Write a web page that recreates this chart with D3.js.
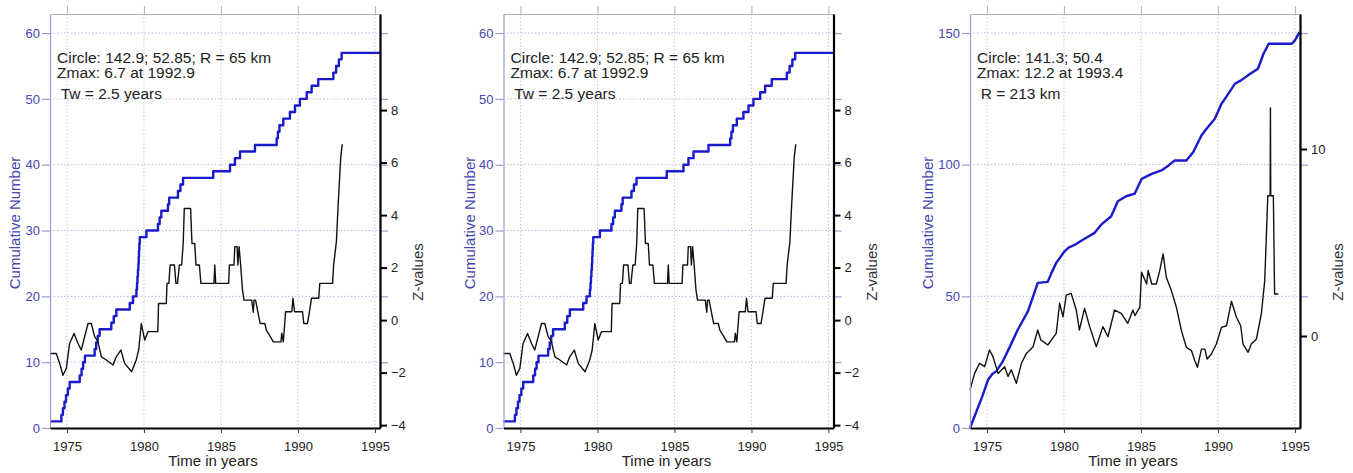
<!DOCTYPE html>
<html>
<head>
<meta charset="utf-8">
<script src="https://cdn.jsdelivr.net/npm/d3@7"></script>
<style>
  body { margin: 0; background: #fff; }
  svg text { font-family: "Liberation Sans", Arial, sans-serif; }
</style>
</head>
<body>
<svg id="chart" width="1353" height="473"></svg>
<script>
// ---- data ----
const yearTicks = [1975, 1980, 1985, 1990, 1995];

// panel A (left and middle are the same data): cumulative number, step times
const cumTimeA = [1973.9, 1974.64, 1974.74, 1974.84, 1974.94, 1975.06, 1975.18, 1975.83, 1975.95, 1976.05,
  1976.17, 1976.8, 1976.9, 1977.0, 1977.12, 1977.88, 1978.04, 1978.21, 1979.08, 1979.29,
  1979.51, 1979.55, 1979.58, 1979.61, 1979.64, 1979.66, 1979.68, 1979.7, 1979.73, 1980.16,
  1980.91, 1981.02, 1981.13, 1981.56, 1981.64, 1982.21, 1982.37, 1982.54, 1984.5, 1985.59,
  1985.91, 1986.24, 1987.21, 1988.62, 1988.7, 1988.8, 1989.05, 1989.48, 1989.81, 1990.13,
  1990.57, 1990.89, 1991.32, 1992.3, 1992.48, 1992.66, 1992.84, 1995.33];
const cumCountA = [1, 2, 3, 4, 5, 6, 7, 8, 9, 10,
  11, 12, 13, 14, 15, 16, 17, 18, 19, 20,
  21, 22, 23, 24, 25, 26, 27, 28, 29, 30,
  31, 32, 33, 34, 35, 36, 37, 38, 39, 40,
  41, 42, 43, 44, 45, 46, 47, 48, 49, 50,
  51, 52, 53, 54, 55, 56, 57, 57];

// panel A z-values
const zTimeA = [1973.9, 1974.31, 1974.53, 1974.74, 1974.96, 1975.17, 1975.46, 1975.72, 1975.93, 1976.15,
  1976.37, 1976.58, 1976.8, 1977.0, 1977.24, 1977.56, 1978.0, 1978.2, 1978.5, 1978.75,
  1979.2, 1979.5, 1979.66, 1979.83, 1980.05, 1980.26, 1980.9, 1980.95, 1981.45, 1981.5,
  1981.62, 1981.7, 1981.98, 1982.08, 1982.18, 1982.3, 1982.45, 1982.55, 1982.62, 1983.03,
  1983.12, 1983.3, 1983.38, 1983.6, 1983.7, 1984.55, 1984.6, 1984.66, 1985.5, 1985.55,
  1985.85, 1985.9, 1986.05, 1986.1, 1986.18, 1986.28, 1986.4, 1986.5, 1987.0, 1987.1,
  1987.15, 1987.25, 1987.4, 1987.55, 1987.85, 1987.95, 1988.15, 1988.4, 1988.9, 1988.95,
  1989.05, 1989.2, 1989.6, 1989.68, 1989.78, 1990.3, 1990.38, 1990.62, 1990.75, 1990.88,
  1991.35, 1991.42, 1992.25, 1992.32, 1992.5, 1992.6, 1992.78, 1992.88];
const zValA = [-1.27, -1.27, -1.65, -2.1, -1.84, -0.89, -0.51, -0.89, -1.14, -0.63,
  -0.13, -0.13, -0.63, -0.8, -1.4, -1.52, -1.71, -1.4, -1.14, -1.65,
  -1.97, -1.52, -1.14, -0.13, -0.76, -0.44, -0.44, 0.63, 0.63, 1.4,
  1.4, 2.1, 2.1, 1.4, 1.4, 2.1, 2.1, 2.92, 4.25, 4.25,
  2.92, 2.92, 2.1, 2.1, 1.4, 1.4, 2.1, 1.4, 1.4, 2.1,
  2.1, 2.8, 2.8, 2.1, 2.8, 2.1, 1.14, 0.76, 0.76, 0.3,
  0.76, 0.76, 0.3, -0.13, -0.13, -0.38, -0.57, -0.83, -0.83, -0.5,
  -0.83, 0.32, 0.32, 0.83, 0.32, 0.32, -0.13, -0.13, 0.32, 0.83,
  0.83, 1.4, 1.4, 2.1, 3.0, 4.25, 6.2, 6.7];

// panel B (right): cumulative number and z-values
const cumTimeB = [1973.9, 1974.3, 1974.7, 1975.07, 1975.35, 1975.6, 1976.0, 1976.5, 1977.0, 1977.66,
  1978.0, 1978.3, 1978.95, 1979.2, 1979.5, 1980.04, 1980.3, 1980.69, 1981.23, 1981.99,
  1982.42, 1983.07, 1983.5, 1984.04, 1984.6, 1985.05, 1985.7, 1986.33, 1986.8, 1987.19,
  1987.95, 1988.4, 1988.93, 1989.26, 1989.8, 1990.23, 1990.67, 1991.1, 1991.5, 1992.1,
  1992.6, 1992.96, 1993.3, 1994.8, 1995.0, 1995.3];
const cumCountB = [0, 6, 12, 18.3, 20.5, 21.5, 25, 31, 37.3, 44.3,
  50, 55.1, 55.5, 59, 62.7, 67.1, 68.5, 69.5, 71.5, 74.1,
  77.2, 80.4, 86.1, 88, 89, 94.6, 96.5, 97.8, 99.7, 101.6,
  101.6, 104.8, 111.1, 113.6, 117.4, 123.1, 126.9, 130.7, 132, 134.5,
  136.4, 142.1, 145.9, 145.9, 147.2, 150.3];

const zTimeB = [1973.9, 1974.2, 1974.52, 1974.85, 1975.17, 1975.39, 1975.72, 1976.15, 1976.37, 1976.58,
  1976.91, 1977.24, 1977.56, 1978.0, 1978.3, 1978.5, 1978.95, 1979.5, 1979.72, 1979.94,
  1980.15, 1980.47, 1980.8, 1981.0, 1981.34, 1981.67, 1982.1, 1982.53, 1982.86, 1983.29,
  1983.72, 1984.15, 1984.48, 1984.61, 1984.93, 1985.04, 1985.37, 1985.47, 1985.7, 1986.0,
  1986.22, 1986.44, 1986.65, 1986.98, 1987.3, 1987.63, 1987.95, 1988.28, 1988.5, 1988.67,
  1988.93, 1989.15, 1989.3, 1989.58, 1989.9, 1990.23, 1990.56, 1990.88, 1991.2, 1991.48,
  1991.63, 1991.96, 1992.17, 1992.5, 1992.82, 1993.04, 1993.24, 1993.39, 1993.41, 1993.43,
  1993.6, 1993.68, 1993.92];
const zValB = [-2.89, -2.0, -1.46, -1.64, -0.75, -1.1, -2.0, -1.64, -2.17, -1.8,
  -2.53, -1.46, -0.93, -0.57, 0.32, -0.21, -0.48, 0.14, 1.75, 1.03,
  2.19, 2.28, 1.39, 0.32, 1.48, 0.5, -0.57, 0.5, -0.04, 1.39,
  1.21, 0.68, 1.39, 1.09, 1.54, 3.41, 2.78, 3.5, 2.78, 2.78,
  3.5, 4.39, 3.14, 2.42, 1.54, 0.29, -0.6, -0.78, -1.32, -1.67,
  -0.7, -0.7, -1.23, -0.96, -0.43, 0.46, 0.55, 1.86, 1.0, 0.55,
  -0.43, -0.87, -0.43, -0.16, 1.18, 2.96, 7.5, 7.5, 12.2, 7.5,
  7.5, 2.25, 2.25];

const notesA = ["Circle: 142.9; 52.85; R = 65 km", "Zmax: 6.7 at 1992.9", "Tw = 2.5 years"];
const notesB = ["Circle: 141.3; 50.4", "Zmax: 12.2 at 1993.4", "R = 213 km"];
const cumTicksA = [0, 10, 20, 30, 40, 50, 60];
const zTicksA = [-4, -2, 0, 2, 4, 6, 8];
const cumTicksB = [0, 50, 100, 150];
const zTicksB = [0, 10];

const blue = '#1a1acd';
const blueText = '#4646b4';
const blueAxis = '#9c9cd4';

const svg = d3.select('#chart');

const panels = [
  { left: 50, cumT: cumTimeA, cumN: cumCountA, zT: zTimeA, zV: zValA, notes: notesA,
    nTicks: cumTicksA, zTicks: zTicksA, nDomain: [0, 62.9], zDomain: [-4.11, 11.66],
    step: true, nLabelDx: -30 },
  { left: 503.5, cumT: cumTimeA, cumN: cumCountA, zT: zTimeA, zV: zValA, notes: notesA,
    nTicks: cumTicksA, zTicks: zTicksA, nDomain: [0, 62.9], zDomain: [-4.11, 11.66],
    step: true, nLabelDx: -29 },
  { left: 970, cumT: cumTimeB, cumN: cumCountB, zT: zTimeB, zV: zValB, notes: notesB,
    nTicks: cumTicksB, zTicks: zTicksB, nDomain: [0, 157.2], zDomain: [-4.92, 17.22],
    step: false, nLabelDx: -37 }
];

const plotTop = 14, plotBottom = 428, plotW = 330;

function drawPanel(p) {
  const g = svg.append('g');
  const right = p.left + plotW;
  const x = d3.scaleLinear().domain([1973.9, 1995.33]).range([p.left, right]);
  const yN = d3.scaleLinear().domain(p.nDomain).range([plotBottom, plotTop]);
  const yZ = d3.scaleLinear().domain(p.zDomain).range([plotBottom, plotTop]);

  // grid
  g.append('g').selectAll('line').data(yearTicks).join('line')
    .attr('x1', d => x(d)).attr('x2', d => x(d))
    .attr('y1', plotTop).attr('y2', plotBottom)
    .attr('stroke', '#c6c6c6').attr('stroke-width', 1)
    .attr('stroke-dasharray', '1.5,2');
  g.append('g').selectAll('line').data(p.nTicks.filter(d => d > 0)).join('line')
    .attr('x1', p.left).attr('x2', right)
    .attr('y1', d => yN(d)).attr('y2', d => yN(d))
    .attr('stroke', '#b4b4de').attr('stroke-width', 1)
    .attr('stroke-dasharray', '1.5,2');

  // top border with upward ticks
  const topAxis = g.append('g').attr('transform', `translate(0,${plotTop})`)
    .call(d3.axisTop(x).tickValues(yearTicks).tickSize(8).tickSizeOuter(0).tickFormat(''));
  topAxis.selectAll('path, line').attr('stroke', '#b0b0b0');

  // curves
  const cumPts = p.cumT.map((t, i) => [t, p.cumN[i]]);
  g.append('path').datum(cumPts)
    .attr('fill', 'none').attr('stroke', blue).attr('stroke-width', 2.4)
    .attr('stroke-linejoin', 'round')
    .attr('d', d3.line().x(d => x(d[0])).y(d => yN(d[1]))
      .curve(p.step ? d3.curveStepAfter : d3.curveLinear));

  const zPts = p.zT.map((t, i) => [t, p.zV[i]]);
  g.append('path').datum(zPts)
    .attr('fill', 'none').attr('stroke', '#111').attr('stroke-width', 1.4)
    .attr('stroke-linejoin', 'round')
    .attr('d', d3.line().x(d => x(d[0])).y(d => yZ(d[1])));

  // left axis (cumulative number)
  const leftAxis = g.append('g').attr('transform', `translate(${p.left},0)`)
    .call(d3.axisLeft(yN).tickValues(p.nTicks).tickSize(8).tickPadding(2).tickSizeOuter(0));
  leftAxis.select('.domain').attr('stroke', blueAxis).attr('stroke-width', 1.2);
  leftAxis.selectAll('.tick line').attr('stroke', blueAxis).attr('stroke-width', 1.2);
  leftAxis.selectAll('.tick text').attr('fill', blueText).style('font-size', '13px');

  // mirror ticks of the left axis on the right side
  const mirror = g.append('g').attr('transform', `translate(${right},0)`)
    .call(d3.axisRight(yN).tickValues(p.nTicks.filter(d => d > 0)).tickSize(8).tickSizeOuter(0).tickFormat(''));
  mirror.select('.domain').remove();
  mirror.selectAll('.tick line').attr('stroke', blueAxis).attr('stroke-width', 1.2);

  // right axis (z-values)
  const rightAxis = g.append('g').attr('transform', `translate(${right},0)`)
    .call(d3.axisRight(yZ).tickValues(p.zTicks).tickSize(7).tickPadding(4).tickSizeOuter(0));
  rightAxis.select('.domain').attr('stroke', '#000').attr('stroke-width', 2.2);
  rightAxis.selectAll('.tick line').attr('stroke', '#000').attr('stroke-width', 2);
  rightAxis.selectAll('.tick text').attr('fill', '#222').style('font-size', '13px');

  // bottom axis
  const bottomAxis = g.append('g').attr('transform', `translate(0,${plotBottom})`)
    .call(d3.axisBottom(x).tickValues(yearTicks).tickSize(5).tickPadding(9).tickSizeOuter(0)
      .tickFormat(d3.format('d')));
  bottomAxis.select('.domain').attr('stroke', '#000').attr('stroke-width', 2.2);
  bottomAxis.selectAll('.tick line').attr('stroke', '#333');
  bottomAxis.selectAll('.tick text').attr('fill', '#222').style('font-size', '13px');

  // titles
  g.append('text')
    .attr('x', p.left + 163).attr('y', 466)
    .attr('text-anchor', 'middle').attr('fill', '#222').style('font-size', '15px')
    .text('Time in years');
  g.append('text')
    .attr('transform', `translate(${p.left + p.nLabelDx},223) rotate(-90)`)
    .attr('text-anchor', 'middle').attr('fill', blueText).style('font-size', '15px')
    .text('Cumulative Number');
  g.append('text')
    .attr('transform', `translate(${right + 43},272) rotate(-90)`)
    .attr('text-anchor', 'middle').attr('fill', '#333').style('font-size', '15px')
    .text('Z-values');

  // annotation
  const noteX = [7, 7, 10.7];
  const noteY = [62.7, 77.7, 99.3];
  g.append('g').selectAll('text').data(p.notes).join('text')
    .attr('x', (d, i) => p.left + noteX[i])
    .attr('y', (d, i) => noteY[i])
    .attr('fill', '#222').style('font-size', '15.5px')
    .text(d => d);
}

panels.forEach(drawPanel);
</script>
</body>
</html>
